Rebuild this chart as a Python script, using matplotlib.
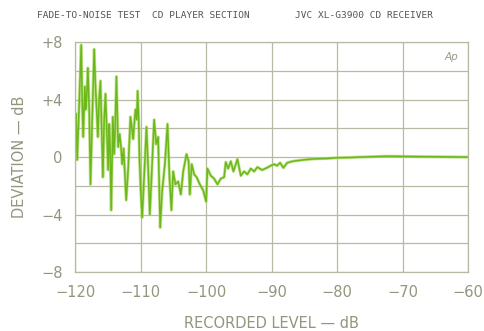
import numpy as np
import matplotlib.pyplot as plt

# deviation curve (recorded level dB, deviation dB)
level = [-119.85, -119.7, -119.47, -119.08, -118.93, -118.78, -118.52, -118.4, -118.24, -118.06,
         -117.86, -117.66, -117.4, -117.1, -116.9, -116.72, -116.53, -116.34, -116.14, -115.95,
         -115.77, -115.57, -115.37, -115.19, -114.96, -114.8, -114.66, -114.5, -114.24, -114.05,
         -113.9, -113.7, -113.44, -113.2, -112.98, -112.82, -112.6, -112.21, -111.9, -111.56,
         -111.37, -111.15, -110.8, -110.6, -110.46, -110.3, -110.18, -110.0, -109.77, -109.47,
         -109.11, -108.85, -108.6, -108.32, -107.94, -107.63, -107.33, -107.02, -106.72, -106.3,
         -105.9, -105.6, -105.3, -105.04, -104.69, -104.27, -103.86, -103.5, -103.0, -102.67,
         -102.49, -102.2, -101.83, -101.45, -100.96, -100.46, -100.0, -99.8, -99.28, -98.78,
         -98.27, -97.76, -97.25, -97.0, -96.64, -96.23, -95.83, -95.22, -94.7, -94.2,
         -93.7, -93.18, -92.67, -92.17, -91.45, -90.73, -90.12, -89.6, -89.16, -88.7,
         -88.2, -87.63, -86.87, -86.1, -85.2, -84.1, -83.05, -81.5, -80.0, -78.0,
         -76.5, -74.5, -72.4, -70.4, -67.3, -64.3, -60.0]
deviation = [3.0, -0.2, 2.6, 7.8, 4.0, 1.4, 4.9, 3.3, 4.2, 6.2,
             3.3, -1.9, 2.6, 7.5, 4.9, 3.3, 1.4, 4.0, 5.3, 1.9,
             -1.4, 2.6, 4.4, 2.1, -0.9, 2.3, 0.6, -3.7, 2.8, 0.2,
             1.9, 5.6, 0.7, 1.6, 0.6, -0.5, 0.6, -3.0, -0.8, 2.8,
             2.1, 1.25, 3.3, 2.6, 4.6, 2.6, -0.1, -2.2, -4.2, -1.4,
             2.1, -0.8, -4.0, -1.2, 2.6, 0.9, 1.4, -4.9, -2.4, -0.5,
             2.3, -1.4, -3.7, -1.0, -1.9, -1.7, -2.6, -1.0, 0.2, -0.3,
             -2.6, -0.5, -1.2, -1.4, -1.9, -2.3, -3.1, -0.8, -1.3, -1.5,
             -1.9, -1.5, -1.4, -0.35, -0.8, -0.3, -1.0, -0.15, -1.3, -1.0,
             -1.2, -0.8, -1.0, -0.7, -0.9, -0.75, -0.6, -0.5, -0.6, -0.4,
             -0.75, -0.4, -0.3, -0.25, -0.2, -0.15, -0.12, -0.1, -0.05, -0.03,
             0.0, 0.03, 0.06, 0.05, 0.03, 0.02, 0.0]

x_ticks = [-120, -110, -100, -90, -80, -70, -60]
x_labels = ["\u2212120", "\u2212110", "\u2212100", "\u221290", "\u221280", "\u221270", "\u221260"]
y_ticks = [8, 4, 0, -4, -8]
y_labels = ["+8", "+4", "0", "\u22124", "\u22128"]

grid_col = "#b8b8a4"
text_col = "#94947f"

fig = plt.figure(figsize=(4.85, 3.31), dpi=100)
ax = fig.add_axes([0.155, 0.178, 0.81, 0.695])

ax.plot(level, deviation, color="#a6d85a", linewidth=2.2, solid_joinstyle="round", alpha=0.7)
ax.plot(level, deviation, color="#6cb81c", linewidth=1.1, solid_joinstyle="round")

ax.set_xlim(-120, -60)
ax.set_ylim(-8, 8)
ax.set_xticks(x_ticks)
ax.set_xticklabels(x_labels, color=text_col, fontsize=10.5)
ax.set_yticks(y_ticks)
ax.set_yticklabels(y_labels, color=text_col, fontsize=10.5)
ax.set_yticks(np.arange(-8, 9, 2), minor=True)
ax.tick_params(which="both", length=0, pad=9)
ax.grid(True, which="both", color=grid_col, linewidth=0.9)
ax.set_axisbelow(True)
for s in ax.spines.values():
    s.set_color(grid_col)
    s.set_linewidth(0.9)

ax.set_xlabel("RECORDED LEVEL \u2014 dB", color=text_col, fontsize=10.5, labelpad=12)
ax.set_ylabel("DEVIATION \u2014 dB", color=text_col, fontsize=10.5, labelpad=10)

fig.text(0.076, 0.946, "FADE-TO-NOISE TEST  CD PLAYER SECTION", fontsize=6.8,
         color="#555550", family="DejaVu Sans Mono")
fig.text(0.608, 0.946, "JVC XL-G3900 CD RECEIVER", fontsize=6.8,
         color="#555550", family="DejaVu Sans Mono")
ax.text(0.975, 0.955, "Ap", transform=ax.transAxes, ha="right", va="top",
        fontsize=7.5, style="italic", color="#9a9a8a")

fig.savefig("out.png", dpi=100, facecolor="white")
